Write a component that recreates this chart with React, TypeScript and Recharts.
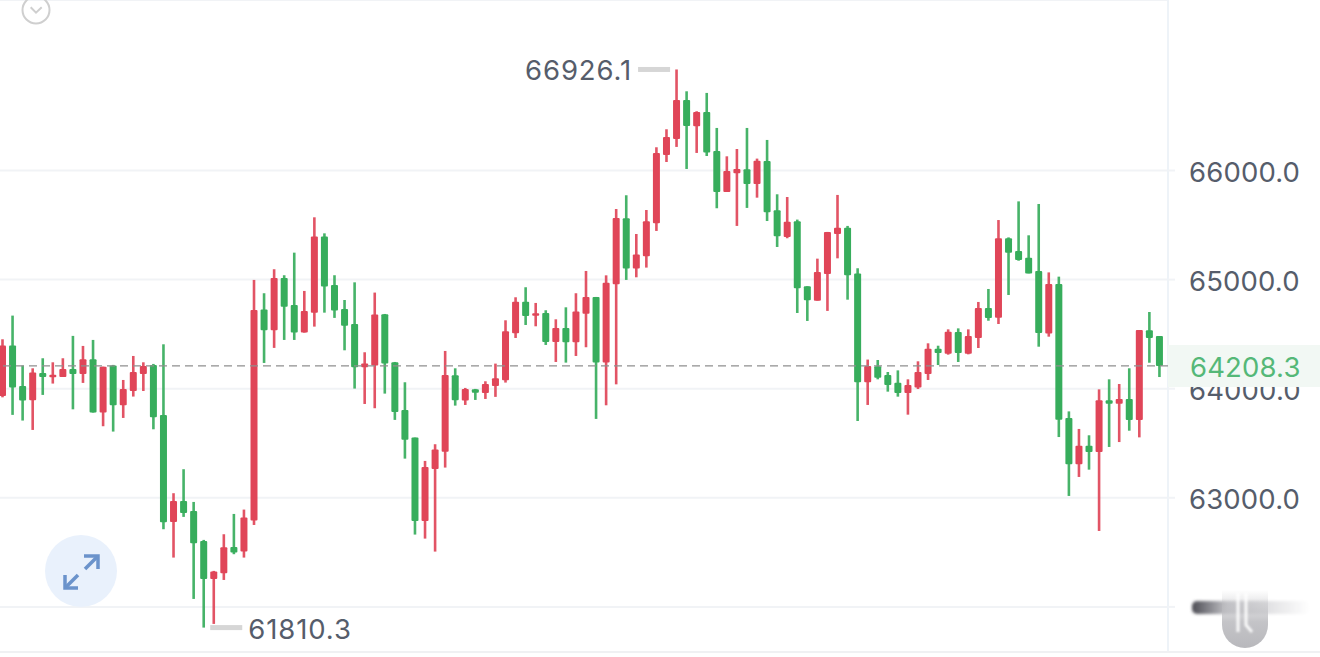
import { Bar, ComposedChart, CartesianGrid, ReferenceDot, ReferenceLine, XAxis, YAxis } from 'recharts'

const opens = [
  63934, 64395, 64025, 63894, 64144, 64108, 64108, 64181, 64135, 64270,
  63781, 64212, 63848, 63979, 64135, 64218, 63760, 62779, 62971, 62880,
  62605, 62256, 62308, 62550, 62507, 62791, 64725, 64535, 65015, 64768,
  64514, 64697, 65394, 64951, 64731, 64594, 64196, 64212, 64682, 64242,
  63805, 63552, 62788, 63265, 63423, 64123, 63891, 63995, 63961, 64025,
  64077, 64508, 64798, 64673, 64694, 64429, 64557, 64426, 64688, 64841,
  64239, 64957, 65562, 65101, 65214, 65516, 66142, 66289, 66646, 66405,
  66536, 66179, 65803, 65974, 66011, 65877, 66087, 65635, 65391, 65534,
  64939, 64807, 65052, 65418, 65476, 65055, 64059, 64205, 64125, 64055,
  63961, 64012, 64135, 64367, 64321, 64520, 64321, 64465, 64740, 64651,
  65378, 65262, 65201, 65079, 64507, 64959, 63731, 63307, 63478, 63420,
  63893, 63863, 63906, 63713, 64535, 64483,
]
const highs = [
  64453, 64670, 64212, 64187, 64279, 64242, 64279, 64484, 64392, 64447,
  64202, 64218, 64080, 64300, 64242, 64227, 64407, 63042, 63262, 62962,
  62614, 62330, 62666, 62852, 62892, 64997, 64875, 65095, 65040, 65247,
  64896, 65571, 65424, 65040, 64813, 64975, 64334, 64881, 64685, 64245,
  64059, 63552, 63338, 63491, 64346, 64187, 64007, 63998, 64068, 64230,
  64627, 64838, 64930, 64786, 64719, 64636, 64746, 64875, 65079, 64841,
  65039, 65647, 65773, 65418, 65638, 66213, 66378, 66926.1, 66726, 66543,
  66711, 66390, 66130, 66197, 66390, 66109, 66280, 65782, 65757, 65550,
  64939, 65192, 65437, 65776, 65492, 65104, 64267, 64263, 64153, 64168,
  64086, 64251, 64416, 64394, 64544, 64553, 64544, 64795, 64914, 65546,
  65387, 65717, 65406, 65693, 65066, 65027, 63792, 63631, 63573, 63994,
  64086, 64043, 64187, 64538, 64703, 64483,
]
const lows = [
  63921, 63760, 63708, 63622, 63943, 64047, 64108, 63811, 64053, 63781,
  63656, 63607, 63732, 63928, 63979, 63628, 62712, 62452, 62825, 62073,
  61810.3, 61844, 62247, 62483, 62452, 62751, 64236, 64374, 64447, 64447,
  64514, 64569, 64697, 64649, 64352, 64001, 63860, 63821, 63955, 63714,
  63359, 62663, 62626, 62507, 63277, 63845, 63851, 63897, 63906, 63925,
  64056, 64465, 64584, 64572, 64401, 64245, 64239, 64300, 64380, 63723,
  63848, 64040, 64997, 65021, 65110, 65446, 66078, 66216, 66014, 66161,
  66133, 65654, 65803, 65492, 65657, 65751, 65537, 65299, 65379, 64694,
  64621, 64807, 64713, 65195, 64816, 63704, 63851, 64086, 63973, 63927,
  63762, 63997, 64080, 64217, 64312, 64245, 64315, 64373, 64623, 64593,
  64859, 65173, 65057, 64385, 64477, 63557, 63017, 63191, 63258, 62696,
  63466, 63511, 63615, 63554, 64238, 64107,
]
const closes = [
  64395, 64010, 63891, 64148, 64108, 64129, 64181, 64135, 64270, 63781,
  64202, 63848, 63998, 64154, 64209, 63738, 62776, 62971, 62861, 62583,
  62256, 62324, 62547, 62498, 62819, 64722, 64535, 65015, 64752, 64514,
  64713, 65394, 64936, 64716, 64578, 64196, 64230, 64679, 64230, 63787,
  63533, 62788, 63283, 63442, 64126, 63894, 63998, 63964, 64044, 64096,
  64526, 64798, 64667, 64691, 64429, 64557, 64426, 64707, 64841, 64239,
  64972, 65565, 65101, 65229, 65534, 66161, 66307, 66646, 66408, 66536,
  66164, 65803, 65996, 66014, 65877, 66090, 65617, 65397, 65531, 64920,
  64810, 65070, 65437, 65476, 65039, 64059, 64208, 64101, 64034, 63961,
  64034, 64153, 64367, 64327, 64523, 64327, 64483, 64740, 64648, 65378,
  65247, 65179, 65057, 64510, 64959, 63716, 63307, 63478, 63420, 63893,
  63863, 63906, 63713, 64538, 64465, 64208.3,
]

const priceTicks = [62000, 63000, 64000, 65000, 66000]
const lastPrice = closes[closes.length - 1]
const maxPrice = 66926.1
const minPrice = 61810.3
const maxIndex = highs.indexOf(maxPrice)
const minIndex = lows.indexOf(minPrice)

const candles = opens.map((open, i) => ({
  id: i,
  open,
  close: closes[i],
  range: [lows[i], highs[i]],
}))

const RED = '#e04558'
const GREEN = '#37ad5c'
const FONT = 'Inter, sans-serif'

function Candle({ x, y, width, height, payload }: any) {
  const [low, high] = payload.range
  const top = Math.min(y, y + height)
  const k = Math.abs(height) / (high - low)
  const color = payload.close >= payload.open ? RED : GREEN
  const bodyTop = top + (high - Math.max(payload.open, payload.close)) * k
  const bodyH = Math.max(Math.abs(payload.close - payload.open) * k, 2.5)
  const mid = x + width / 2
  return (
    <g>
      <rect x={mid - 1.3} y={top} width={2.6} height={Math.abs(height)} fill={color} fillOpacity={0.92} />
      <rect x={x} y={bodyTop} width={width} height={bodyH} rx={1} fill={color} />
    </g>
  )
}

function ExtremeLabel({ cx, cy, side, value }: any) {
  const left = side === 'left'
  return (
    <g>
      <rect x={left ? cx - 38 : cx + 7} y={cy - 2.5} width={32} height={5} fill="#d6d6d6" />
      <text
        x={left ? cx - 44 : cx + 45}
        y={cy + 11}
        textAnchor={left ? 'end' : 'start'}
        fontSize={27.5}
        letterSpacing={0.9}
        fontFamily={FONT}
        fill="#565d6b"
      >
        {value}
      </text>
    </g>
  )
}

function LastPriceLabel({ viewBox }: any) {
  const right = viewBox.x + viewBox.width
  return (
    <g>
      <rect x={right} y={viewBox.y - 21} width={152} height={42} fill="#f2f8f4" />
      <text x={1190} y={viewBox.y + 11} fontSize={27.5} letterSpacing={0.15} fontFamily={FONT} fill="#55b878">
        {lastPrice}
      </text>
    </g>
  )
}

export default function App() {
  return (
    <div style={{ position: 'absolute', left: 0, top: 0, width: 1320, height: 657, overflow: 'hidden', background: '#fff' }}>
      <ComposedChart
        width={1320}
        height={657}
        data={candles}
        margin={{ top: 0, right: 0, left: -3, bottom: 5 }}
      >
        <CartesianGrid horizontal vertical={false} stroke="#f1f3f6" strokeWidth={2} />
        <XAxis dataKey="id" hide padding={{ left: 0, right: 4 }} />
        <YAxis
          orientation="right"
          width={152}
          domain={[61586.6, 67562.8]}
          ticks={priceTicks}
          tickFormatter={(v: number) => (v === 62000 ? '' : v.toFixed(1))}
          tick={{ fontSize: 27.5, fontFamily: FONT, fill: '#565d6b', dy: 1.5, letterSpacing: 0.15 }}
          tickSize={7}
          tickMargin={14}
          tickLine={{ stroke: '#f1f3f6', strokeWidth: 2 }}
          axisLine={{ stroke: '#eef3f8', strokeWidth: 2 }}
          interval={0}
        />
        <Bar dataKey="range" barSize={7} isAnimationActive={false} shape={Candle} />
        <ReferenceLine
          y={lastPrice}
          stroke="#8f8f8f"
          strokeWidth={1.2}
          strokeDasharray="8 5"
          label={LastPriceLabel}
          zIndex={2000}
        />
        <ReferenceDot
          x={maxIndex}
          y={maxPrice}
          r={0}
          shape={(p: any) => <ExtremeLabel {...p} side="left" value={maxPrice} />}
        />
        <ReferenceDot
          x={minIndex}
          y={minPrice}
          r={0}
          shape={(p: any) => <ExtremeLabel {...p} side="right" value={minPrice} />}
        />
      </ComposedChart>

      <svg width={1320} height={657} style={{ position: 'absolute', left: 0, top: 0, pointerEvents: 'none' }}>
        <defs>
          <linearGradient id="streak" x1="0" x2="1" y1="0" y2="0">
            <stop offset="0" stopColor="#4c4c54" />
            <stop offset="0.3" stopColor="#c4c4c8" />
            <stop offset="1" stopColor="#ffffff" />
          </linearGradient>
          <linearGradient id="mark" x1="0" x2="0" y1="0" y2="1">
            <stop offset="0" stopColor="#bdbdc1" stopOpacity={0} />
            <stop offset="0.55" stopColor="#bdbdc1" stopOpacity={0.9} />
            <stop offset="1" stopColor="#b8b8bc" />
          </linearGradient>
          <filter id="soft" x="-10%" y="-40%" width="120%" height="180%">
            <feGaussianBlur stdDeviation="1.6" />
          </filter>
          <filter id="softer" x="-50%" y="-10%" width="200%" height="120%">
            <feGaussianBlur stdDeviation="0.8" />
          </filter>
        </defs>

        <line x1={0} x2={1320} y1={652} y2={652} stroke="#f0f1f3" strokeWidth={2} />

        <circle cx={36} cy={10} r={13.5} fill="none" stroke="#cfcfcf" strokeWidth={2} />
        <polyline points="30.7,7.3 36,12.7 41.7,7.3" fill="none" stroke="#cfcfcf" strokeWidth={2} />

        <circle cx={81} cy={571} r={36} fill="#e9f1fc" />
        <g fill="none" stroke="#6b93cb" strokeWidth={3.5}>
          <polyline points="84,556 98,556 98,569" />
          <line x1={85} y1={569} x2={97} y2={557} />
          <polyline points="65,575 65,588 78,588" />
          <line x1={66} y1={587} x2={78} y2={575} />
        </g>

        <rect x={1192} y={601} width={118} height={13} rx={5} fill="url(#streak)" filter="url(#soft)" />
        <path d="M1222 590 H1268 V625 A23 23 0 0 1 1222 625 Z" fill="url(#mark)" />
        <g fill="none" stroke="#ffffff" strokeWidth={3} strokeOpacity={0.9} filter="url(#softer)">
          <line x1={1238} y1={593} x2={1238} y2={632} />
          <polyline points="1246,593 1246,625 1252,632" />
        </g>
      </svg>
    </div>
  )
}
